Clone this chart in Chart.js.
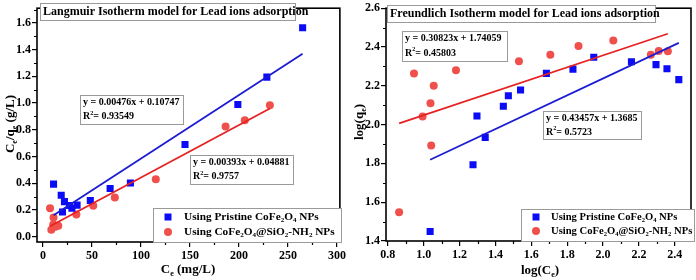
<!DOCTYPE html>
<html>
<head>
<meta charset="utf-8">
<script src="https://cdn.jsdelivr.net/npm/chart.js@4.4.0/dist/chart.umd.min.js"></script>
<style>
    html, body { margin: 0; padding: 0; background: #fff; }
    #wrap { position: relative; width: 696px; height: 280px; }
    .panel { position: absolute; top: 0; width: 348px; height: 280px; }
</style>
</head>
<body>
<div id="wrap">
    <div class="panel" style="left:0"><canvas id="langmuir" width="348" height="280"></canvas></div>
    <div class="panel" style="left:348px"><canvas id="freundlich" width="348" height="280"></canvas></div>
</div>
<script>
// Langmuir: Ce (mg/L) vs Ce/qe (g/L)
const langPristineCe = [10.9, 18.7, 20, 22, 27.1, 29.6, 34.9, 48.4, 68.6, 89.3, 145, 198.9, 228.5, 265];
const langPristineRatio = [0.393, 0.31, 0.185, 0.262, 0.233, 0.212, 0.236, 0.27, 0.361, 0.402, 0.69, 0.989, 1.194, 1.564];
const langAmineCe = [7.3, 8.6, 10.6, 10.9, 10.9, 12.7, 15.7, 34.2, 51.4, 73.4, 115.2, 186.4, 206, 231.6];
const langAmineRatio = [0.212, 0.052, 0.091, 0.085, 0.144, 0.074, 0.081, 0.165, 0.231, 0.293, 0.429, 0.825, 0.871, 0.984];

// Freundlich: log(Ce) vs log(qe)
const freuPristineLogCe = [1.036, 1.275, 1.297, 1.343, 1.444, 1.472, 1.540, 1.684, 1.832, 1.948, 2.158, 2.295, 2.356, 2.422];
const freuPristineLogQe = [1.449, 1.793, 2.044, 1.934, 2.095, 2.149, 2.178, 2.264, 2.286, 2.347, 2.324, 2.309, 2.288, 2.232];
const freuAmineLogCe = [0.863, 0.946, 0.994, 1.038, 1.042, 1.056, 1.180, 1.531, 1.706, 1.863, 2.057, 2.266, 2.310, 2.361];
const freuAmineLogQe = [1.548, 2.264, 2.042, 2.110, 1.892, 2.200, 2.280, 2.327, 2.360, 2.405, 2.434, 2.360, 2.380, 2.378];

// linear fits: [slope, intercept, R2]
const langFitPristine = [0.00476, 0.10747, 0.93549];
const langFitAmine = [0.00393, 0.04881, 0.9757];
const freuFitPristine = [0.43457, 1.3685, 0.5723];
const freuFitAmine = [0.30823, 1.74059, 0.45803];

// tick settings: [min, max, step]
const langXTicks = [-6, 303, 50];
const langYTicks = [-0.04, 1.71, 0.2];
const freuXTicks = [0.79, 2.49, 0.2];
const freuYTicks = [1.4, 2.6, 0.2];

const seriesNames = ['Using Pristine CoFe_{2}O_{4} NPs', 'Using CoFe_{2}O_{4}@SiO_{2}-NH_{2} NPs'];

const BLUE = '#0b0bf5';
const BLUE_LINE = '#1c1cd2';
const RED = '#f0504c';
const RED_LINE = '#e62222';
const FONT = '"Liberation Serif", "Times New Roman", serif';
const SUB = 0.62;

function pts(xs, ys) {
    return xs.map((x, i) => ({ x: x, y: ys[i] }));
}

function fitLine(xs, fit) {
    const lo = Math.min(...xs), hi = Math.max(...xs);
    return [{ x: lo, y: fit[0] * lo + fit[1] }, { x: hi, y: fit[0] * hi + fit[1] }];
}

// split "CoFe_{2}O_{4}" into normal / sub / sup pieces
function parseRich(str) {
    const parts = [];
    const re = /([_^])\{([^}]*)\}/g;
    let last = 0, m;
    while ((m = re.exec(str)) !== null) {
        if (m.index > last) parts.push({ t: str.slice(last, m.index), s: '' });
        parts.push({ t: m[2], s: m[1] === '_' ? 'sub' : 'sup' });
        last = re.lastIndex;
    }
    if (last < str.length) parts.push({ t: str.slice(last), s: '' });
    return parts;
}

function drawRich(ctx, str, x, y, size, align) {
    const parts = parseRich(str);
    let w = 0;
    parts.forEach(p => {
        ctx.font = 'bold ' + (p.s ? size * SUB : size) + 'px ' + FONT;
        w += ctx.measureText(p.t).width;
    });
    let cx = align === 'center' ? x - w / 2 : x;
    ctx.textAlign = 'left';
    ctx.textBaseline = 'middle';
    parts.forEach(p => {
        const sz = p.s ? size * SUB : size;
        ctx.font = 'bold ' + sz + 'px ' + FONT;
        const dy = p.s === 'sub' ? size * 0.3 : (p.s === 'sup' ? -size * 0.33 : 0);
        ctx.fillText(p.t, cx, y + dy);
        cx += ctx.measureText(p.t).width;
    });
}

function drawBox(ctx, b) {
    ctx.fillStyle = '#fff';
    ctx.fillRect(b.x, b.y, b.w, b.h);
    ctx.strokeStyle = '#9a9a9a';
    ctx.lineWidth = 1;
    ctx.strokeRect(b.x + 0.5, b.y + 0.5, b.w, b.h);
    ctx.fillStyle = '#000';
    b.lines.forEach((ln, i) => drawRich(ctx, ln, b.x + 3, b.y + b.first + i * b.gap, b.size, 'left'));
}

function eqLines(fit) {
    return ['y = ' + fit[0] + 'x + ' + fit[1], 'R^{2}= ' + fit[2]];
}

const decor = {
    id: 'decor',
    afterDraw(chart, args, o) {
        const ctx = chart.ctx, a = chart.chartArea;
        const sx = chart.scales.x, sy = chart.scales.y;
        ctx.save();
        // minor ticks
        ctx.strokeStyle = '#000';
        ctx.lineWidth = 1.2;
        ctx.beginPath();
        const minor = (scale, step, horiz) => {
            const half = step / 2;
            for (let v = Math.ceil(scale.min / half) * half; v <= scale.max + 1e-9; v += half) {
                const k = v / step;
                if (Math.abs(k - Math.round(k)) < 1e-6) continue;
                const p = Math.round(scale.getPixelForValue(v)) + 0.5;
                if (horiz) { ctx.moveTo(p, a.bottom); ctx.lineTo(p, a.bottom + 3); }
                else { ctx.moveTo(a.left, p); ctx.lineTo(a.left - 3, p); }
            }
        };
        minor(sx, o.xStep, true);
        minor(sy, o.yStep, false);
        ctx.stroke();
        // frame
        ctx.lineWidth = 1.6;
        ctx.strokeRect(a.left, a.top, a.right - a.left, a.bottom - a.top);
        // text boxes
        o.boxes.forEach(b => drawBox(ctx, b));
        // legend
        const lg = o.legend;
        drawBox(ctx, { x: lg.x, y: lg.y, w: lg.w, h: lg.h, lines: [], size: 12, first: 0, gap: 0 });
        ctx.fillStyle = BLUE;
        ctx.fillRect(lg.mx - 3.5, lg.y1 - 3.5, 7, 7);
        ctx.fillStyle = RED;
        ctx.beginPath();
        ctx.arc(lg.mx, lg.y2, 4, 0, Math.PI * 2);
        ctx.fill();
        ctx.fillStyle = '#000';
        drawRich(ctx, seriesNames[0], lg.tx, lg.y1, lg.size, 'left');
        drawRich(ctx, seriesNames[1], lg.tx, lg.y2, lg.size, 'left');
        // axis titles
        drawRich(ctx, o.xTitle, o.xTitlePos[0], o.xTitlePos[1], 13, 'center');
        ctx.save();
        ctx.translate(o.yTitlePos[0], o.yTitlePos[1]);
        ctx.rotate(-Math.PI / 2);
        drawRich(ctx, o.yTitle, 0, 0, 13, 'center');
        ctx.restore();
        ctx.restore();
    }
};

function makeChart(id, d) {
    const axis = (t, digits, size, horiz) => ({
        type: 'linear',
        min: t[0],
        max: t[1],
        ticks: {
            stepSize: t[2],
            includeBounds: false,
            color: '#000',
            padding: horiz ? 2 : 1,
            font: { family: FONT, size: 12, weight: 'bold' },
            callback: v => Number(v).toFixed(digits)
        },
        grid: { drawOnChartArea: false, drawTicks: true, tickLength: 5, color: '#000', lineWidth: 1.2 },
        border: { display: false },
        afterFit: s => { if (horiz) s.height = size; else s.width = size; }
    });
    return new Chart(document.getElementById(id), {
        type: 'scatter',
        data: {
            datasets: [
                { data: d.line1, showLine: true, pointRadius: 0, borderColor: BLUE_LINE, borderWidth: 1.8 },
                { data: d.line2, showLine: true, pointRadius: 0, borderColor: RED_LINE, borderWidth: 1.8 },
                { data: d.set1, pointStyle: 'rect', pointRadius: 5, backgroundColor: BLUE, borderWidth: 0 },
                { data: d.set2, pointStyle: 'circle', pointRadius: 4, backgroundColor: RED, borderWidth: 0 }
            ]
        },
        options: {
            responsive: false,
            animation: false,
            devicePixelRatio: 1,
            layout: { padding: d.padding },
            plugins: { legend: { display: false }, tooltip: { enabled: false }, decor: d.decor },
            scales: {
                x: axis(d.xTicks, d.xDigits, d.xSize, true),
                y: axis(d.yTicks, 1, d.ySize, false)
            }
        },
        plugins: [decor]
    });
}

makeChart('langmuir', {
    set1: pts(langPristineCe, langPristineRatio),
    set2: pts(langAmineCe, langAmineRatio),
    line1: fitLine(langPristineCe, langFitPristine),
    line2: fitLine(langAmineCe, langFitAmine),
    xTicks: langXTicks, yTicks: langYTicks, xDigits: 0,
    xSize: 38, ySize: 37,
    padding: { top: 0, right: 7, left: 0, bottom: 0 },
    decor: {
        xStep: 50, yStep: 0.2,
        xTitle: 'C_{e} (mg/L)', xTitlePos: [188, 270],
        yTitle: 'C_{e}/q_{e} (g/L)', yTitlePos: [11, 124],
        boxes: [
            { x: 40, y: 3, w: 255, h: 17, lines: ['Langmuir Isotherm model for Lead ions adsorption'], size: 12, first: 8.5, gap: 0 },
            { x: 80, y: 95, w: 103, h: 29, lines: eqLines(langFitPristine), size: 10, first: 7, gap: 14.5 },
            { x: 190, y: 155, w: 103, h: 29, lines: eqLines(langFitAmine), size: 10, first: 7, gap: 14.5 }
        ],
        legend: { x: 153, y: 208, w: 188, h: 34, mx: 168, y1: 217, y2: 232, tx: 184, size: 11.3 }
    }
});

makeChart('freundlich', {
    set1: pts(freuPristineLogCe, freuPristineLogQe),
    set2: pts(freuAmineLogCe, freuAmineLogQe),
    line1: fitLine(freuPristineLogCe, freuFitPristine),
    line2: fitLine(freuAmineLogCe, freuFitAmine),
    xTicks: freuXTicks, yTicks: freuYTicks, xDigits: 1,
    xSize: 39, ySize: 38,
    padding: { top: 4, right: 2, left: 0, bottom: 0 },
    decor: {
        xStep: 0.2, yStep: 0.2,
        xTitle: 'log(C_{e})', xTitlePos: [192, 271],
        yTitle: 'log(q_{e})', yTitlePos: [12, 122],
        boxes: [
            { x: 39, y: 5, w: 268, h: 17, lines: ['Freundlich Isotherm model for Lead ions adsorption'], size: 12, first: 8.5, gap: 0 },
            { x: 54, y: 31, w: 105, h: 30, lines: eqLines(freuFitAmine), size: 10, first: 7.5, gap: 14.5 },
            { x: 195, y: 111, w: 98, h: 28, lines: eqLines(freuFitPristine), size: 10, first: 7, gap: 14 }
        ],
        legend: { x: 173, y: 209, w: 173, h: 32, mx: 188, y1: 217, y2: 231, tx: 203, size: 10.6 }
    }
});
</script>
</body>
</html>
